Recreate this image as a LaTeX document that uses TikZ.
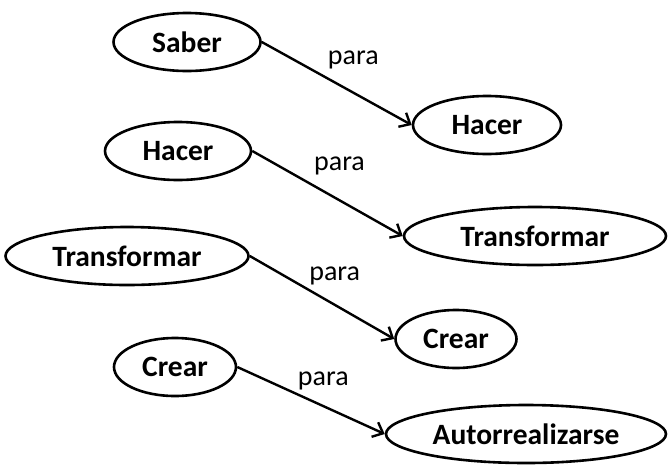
\documentclass[tikz,border=0pt]{standalone}
\usepackage{fontspec}
\setmainfont{Carlito}
\usetikzlibrary{shapes.geometric,arrows.meta}

\tikzset{
	concepto/.style={ellipse, draw=black, line width=2.6pt, inner sep=0pt,
		minimum height=58pt, font=\fontsize{29.5}{33}\selectfont\bfseries},
	flecha/.style={line width=2.4pt, -{Straight Barb[length=9pt,width=16pt,line width=2.4pt]}},
	para/.style={font=\fontsize{28}{32}\selectfont, anchor=south west, inner sep=2pt}
}

\begin{document}
\begin{tikzpicture}[x=1pt,y=-1pt]
		\useasboundingbox (0,0) rectangle (671,464);
		
		%left column
		\node[concepto, minimum width=147pt] (saber) at (187,42) {Saber};
		\node[concepto, minimum width=146pt] (hacerL) at (178,151) {Hacer};
		\node[concepto, minimum width=243pt] (transL) at (127,256) {Transformar};
		\node[concepto, minimum width=122pt] (crearL) at (175,367) {Crear};
		
		%right column
		\node[concepto, minimum width=148pt] (hacerR) at (487,125) {Hacer};
		\node[concepto, minimum width=262pt] (transR) at (535,236) {Transformar};
		\node[concepto, minimum width=121pt] (crearR) at (456,339) {Crear};
		\node[concepto, minimum width=280pt] (autoR) at (526,434) {Autorrealizarse};
		
		%arrows
		\draw[flecha] (saber.east) -- node[para, pos=0.42, yshift=5pt] {para} (hacerR.west);
		\draw[flecha] (hacerL.east) -- node[para, pos=0.39, yshift=6pt] {para} (transR.west);
		\draw[flecha] (transL.east) -- node[para, pos=0.39] {para} (crearR.west);
		\draw[flecha] (crearL.east) -- node[para, pos=0.39] {para} (autoR.west);
		
\end{tikzpicture}
\end{document}
